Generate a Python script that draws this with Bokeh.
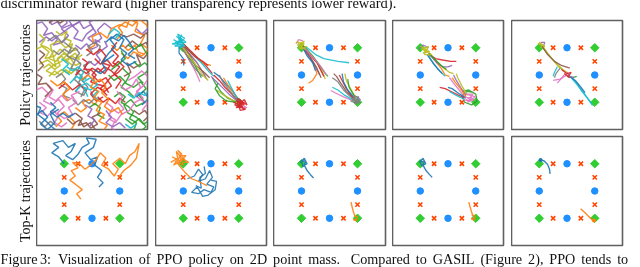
import math
from bokeh.plotting import figure
from bokeh.layouts import column, row
from bokeh.models import Range1d
from bokeh.embed import file_html
from bokeh.resources import INLINE
from bokeh.core.properties import value

TAB = {"blue": "#1f77b4", "orange": "#ff7f0e", "green": "#2ca02c", "red": "#d62728",
       "purple": "#9467bd", "brown": "#8c564b", "pink": "#e377c2", "gray": "#7f7f7f",
       "olive": "#bcbd22", "cyan": "#17becf"}

TOP_TEXT = "discriminator reward (higher transparency represents lower reward)."
CAPTION = ("Figure\u20063:\u2002Visualization\u2006 of\u2006 PPO\u2006 policy\u2006 on\u2006 2D\u2006 point\u2006 mass."
           "\u2002 Compared\u2006 to\u2006 GASIL\u2006 (Figure\u2006 2),\u2006 PPO\u2006 tends\u2006 to")
ROW_LABELS = ["Policy trajectories", "Top-K trajectories"]

# goal markers
DIAMOND_X = [-1, 1, -1, 1]
DIAMOND_Y = [1, 1, -1, -1]
CIRCLE_X = [0, 0, -1, 1]
CIRCLE_Y = [1, -1, 0, 0]
CROSS_X = [-0.5, 0.5, -0.5, 0.5, -1, -1, 1, 1]
CROSS_Y = [1, 1, -1, -1, 0.5, -0.5, 0.5, -0.5]

# ---- top row, panel 1 (random policy) ----
TOP1 = [
    ("purple", [(-2.1,1.85),(-1.8,1.95),(-1.6,1.7),(-1.75,1.45),(-1.45,1.55),(-1.25,1.3),(-1.4,1.1),(-1.05,1.2),(-0.85,1.45),(-1.1,1.7),(-0.75,1.85),(-0.5,1.6),(-0.65,1.35),(-0.35,1.25),(-0.2,1.5),(0.05,1.7),(-0.1,1.95),(0.25,2.1)]),
    ("purple", [(-0.9,2.1),(-0.7,1.8),(-0.45,1.95),(-0.3,1.7),(-0.05,1.85),(0.15,1.55),(-0.15,1.35),(0.1,1.15),(0.35,1.35),(0.2,1.65),(0.45,1.9),(0.7,1.7)]),
    ("purple", [(-1.6,2.1),(-1.45,1.85),(-1.25,1.95),(-1.1,1.75),(-0.9,1.9),(-0.95,2.1)]),
    ("purple", [(-0.3,0.3),(-0.1,0.5),(0.1,0.35),(0.3,0.55),(0.15,0.75),(0.35,0.9),(0.55,1.05),(0.45,1.25)]),
    ("purple", [(-1.9,1.2),(-1.65,1.4),(-1.45,1.25),(-1.2,1.45),(-1.0,1.6),(-0.8,1.75),(-0.55,1.9),(-0.3,2.05)]),
    ("purple", [(-0.6,1.1),(-0.4,0.95),(-0.2,1.15),(0.0,0.95),(0.2,1.05),(0.1,1.3),(0.3,1.2)]),
    ("purple", [(1.6,1.7),(1.8,1.5),(2.0,1.7),(2.1,1.45)]),
    ("orange", [(-0.2,0.9),(0.1,1.1),(0.0,1.4),(0.3,1.55),(0.55,1.35),(0.7,1.7),(1.0,1.85),(1.25,1.75),(1.35,2.05),(1.65,1.9),(1.55,1.6),(1.9,1.45),(1.75,1.15),(2.05,0.95),(1.8,0.7),(1.5,0.85),(1.3,0.6),(1.05,0.8)]),
    ("orange", [(0.9,1.3),(1.1,1.55),(0.95,1.75),(1.2,1.95),(1.45,1.8),(1.7,2.05),(1.95,1.85),(2.1,1.6)]),
    ("orange", [(-1.3,-1.9),(-1.1,-1.7),(-1.25,-1.5),(-1.0,-1.35),(-0.8,-1.55),(-0.6,-1.75),(-0.75,-2.0)]),
    ("orange", [(0.7,1.1),(0.9,0.9),(1.1,1.1),(1.3,0.9),(1.55,1.1),(1.65,0.85),(1.9,0.75)]),
    ("orange", [(-0.6,-1.2),(-0.4,-1.35),(-0.2,-1.2),(-0.35,-1.0),(-0.1,-0.9),(0.1,-1.1),(0.25,-0.85)]),
    ("brown", [(1.2,1.0),(1.45,1.25),(1.7,1.05),(1.95,1.2),(2.1,0.9),(1.85,0.6),(1.6,0.75),(1.75,0.4),(1.5,0.25),(1.25,0.45),(1.4,0.1),(1.15,-0.05)]),
    ("brown", [(1.0,1.5),(1.25,1.4),(1.5,1.5),(1.75,1.35),(1.95,1.55),(2.1,1.35)]),
    ("brown", [(1.5,-1.3),(1.7,-1.45),(1.9,-1.3),(2.05,-1.5),(1.85,-1.7)]),
    ("brown", [(-1.55,1.9),(-1.35,2.05),(-1.15,1.9),(-0.95,2.05)]),
    ("olive", [(-2.1,0.9),(-1.8,1.05),(-1.55,0.85),(-1.7,0.6),(-1.35,0.7),(-1.15,0.95),(-0.9,0.75),(-1.1,0.5),(-1.4,0.35),(-1.65,0.15),(-1.35,0.0),(-1.1,0.2),(-0.85,0.05),(-0.7,0.35),(-0.95,0.55),(-0.6,0.8),(-0.45,0.55)]),
    ("olive", [(-1.9,0.4),(-1.6,0.55),(-1.3,0.3),(-1.5,1.1),(-1.2,1.25),(-0.95,1.0),(-0.7,1.15),(-0.8,0.85),(-0.5,0.95)]),
    ("olive", [(-1.9,1.5),(-1.7,1.3),(-1.85,1.1),(-1.6,1.0),(-1.4,0.85),(-1.55,0.6),(-1.3,0.5),(-1.1,0.7),(-0.9,0.5),(-0.75,0.7),(-0.55,0.6),(-0.35,0.75)]),
    ("olive", [(-1.75,0.25),(-1.55,0.4),(-1.35,0.2),(-1.15,0.35),(-1.25,0.6),(-1.0,0.8),(-0.8,0.65),(-0.6,0.35),(-0.4,0.45)]),
    ("olive", [(-1.3,1.6),(-1.1,1.45),(-0.9,1.6),(-1.0,1.35),(-0.75,1.25),(-0.85,1.05),(-0.6,0.95)]),
    ("olive", [(-1.55,-0.05),(-1.35,0.15),(-1.15,0.0),(-0.95,0.2),(-0.75,0.05),(-0.55,0.25)]),
    ("gray", [(-1.0,1.2),(-0.75,1.0),(-0.9,0.7),(-0.6,0.55),(-0.75,0.25),(-0.45,0.15),(-0.65,-0.15),(-0.4,-0.35),(-0.6,-0.6),(-0.3,-0.75),(-0.15,-0.45),(-0.35,-0.2),(-0.1,0.05),(-0.3,0.35),(0.0,0.5)]),
    ("gray", [(-1.4,0.9),(-1.2,0.75),(-1.0,0.95),(-0.8,0.8),(-0.6,1.0),(-0.45,0.8),(-0.6,0.6),(-0.4,0.4),(-0.55,0.1),(-0.35,-0.05),(-0.5,-0.3),(-0.25,-0.5),(-0.4,-0.8)]),
    ("gray", [(-0.7,-0.9),(-0.5,-1.1),(-0.3,-0.9),(-0.1,-1.05),(0.1,-0.85),(-0.05,-0.6)]),
    ("gray", [(-1.6,1.25),(-1.3,1.45),(-1.1,1.2),(-0.9,1.4)]),
    ("gray", [(-1.3,-0.1),(-1.1,0.05),(-0.95,-0.15),(-1.15,-0.35),(-0.9,-0.5),(-1.05,-0.75),(-0.8,-0.85)]),
    ("gray", [(-0.2,0.7),(0.0,0.85),(-0.15,1.05),(0.1,1.2),(0.3,1.05),(0.2,0.8)]),
    ("gray", [(-1.9,-1.7),(-1.7,-1.9),(-1.5,-1.7),(-1.3,-1.85)]),
    ("red", [(-0.2,0.95),(0.05,0.75),(0.3,0.95),(0.5,0.7),(0.35,0.45),(0.65,0.35),(0.45,0.05),(0.2,0.25),(0.0,0.0),(0.25,-0.25),(0.5,-0.1),(0.7,-0.4),(0.45,-0.6),(0.2,-0.45),(-0.05,-0.7),(0.15,-0.95),(0.4,-0.8)]),
    ("red", [(0.9,1.2),(0.7,0.95),(0.95,0.7),(0.75,0.45),(1.0,0.3),(0.8,0.05),(1.05,-0.2),(0.85,-0.5)]),
    ("red", [(0.1,0.6),(0.3,0.4),(0.55,0.55),(0.75,0.3),(0.95,0.5),(1.15,0.3),(0.95,0.1),(0.7,-0.05),(0.5,-0.3),(0.3,-0.5),(0.55,-0.75)]),
    ("red", [(-0.35,0.6),(-0.15,0.45),(-0.3,0.2),(-0.05,0.2),(0.15,0.0),(-0.05,-0.25),(0.2,-0.35),(0.45,-0.4),(0.6,-0.65)]),
    ("red", [(-1.2,-0.5),(-0.95,-0.3),(-0.7,-0.55),(-0.45,-0.35),(-0.2,-0.6)]),
    ("red", [(-0.6,0.0),(-0.4,0.2),(-0.2,0.05),(0.0,0.25),(0.25,0.1),(0.45,0.3),(0.7,0.15),(0.9,-0.05)]),
    ("red", [(0.2,-0.8),(0.4,-1.0),(0.6,-0.85),(0.85,-1.05),(1.0,-0.85),(1.2,-1.0)]),
    ("green", [(1.1,0.25),(1.35,0.0),(1.2,-0.3),(1.5,-0.45),(1.75,-0.25),(1.95,-0.5),(1.7,-0.75),(1.9,-1.0),(1.6,-1.15),(1.4,-0.9),(1.15,-1.1),(1.3,-1.4),(1.6,-1.55),(1.85,-1.8),(2.1,-1.65)]),
    ("green", [(0.7,0.2),(0.95,0.4),(1.2,0.6),(1.05,0.9)]),
    ("green", [(1.5,0.5),(1.7,0.3),(1.9,0.45),(2.1,0.25),(1.9,0.05),(1.65,-0.1),(1.85,-0.3)]),
    ("green", [(0.8,-0.8),(1.0,-0.65),(1.2,-0.8),(1.05,-1.0),(1.3,-1.15),(1.5,-1.35),(1.35,-1.6),(1.6,-1.75),(1.5,-2.05)]),
    ("green", [(1.2,-1.6),(1.45,-1.8),(1.7,-1.6),(1.95,-1.9),(1.7,-2.1)]),
    ("green", [(-0.1,-1.2),(0.1,-1.05),(0.3,-1.2),(0.2,-1.45),(0.45,-1.6)]),
    ("green", [(0.6,0.0),(0.8,-0.2),(1.0,-0.05),(1.2,-0.25),(1.05,-0.45),(1.3,-0.6),(1.5,-0.8)]),
    ("green", [(1.3,1.1),(1.55,0.95),(1.75,1.15),(1.9,0.9),(2.05,0.65)]),
    ("pink", [(-2.1,-0.6),(-1.8,-0.45),(-1.55,-0.7),(-1.75,-0.95),(-1.45,-1.1),(-1.2,-0.9),(-1.0,-1.15),(-1.25,-1.4),(-1.0,-1.6),(-0.7,-1.45),(-0.85,-1.2),(-0.55,-1.0),(-0.75,-0.75),(-0.45,-0.6)]),
    ("pink", [(1.3,-0.2),(1.55,-0.05),(1.8,0.15),(2.05,-0.1),(1.85,-0.4),(1.6,-0.6),(1.85,-0.85),(1.55,-1.0),(1.35,-1.3),(1.05,-1.45),(0.85,-1.75),(0.6,-1.6)]),
    ("pink", [(0.5,-1.0),(0.75,-1.2),(0.6,-1.5),(0.85,-1.65),(0.7,-1.95),(0.95,-2.1)]),
    ("pink", [(-1.9,-1.0),(-1.65,-1.2),(-1.85,-1.4),(-1.6,-1.5),(-1.4,-1.3),(-1.2,-1.5),(-1.35,-1.75),(-1.1,-1.9),(-0.9,-1.75)]),
    ("pink", [(1.0,-0.35),(1.2,-0.55),(1.45,-0.4),(1.6,-0.15),(1.75,-0.45),(1.55,-0.75),(1.75,-0.9),(2.0,-1.05),(1.8,-1.3)]),
    ("pink", [(-1.6,-0.35),(-1.4,-0.55),(-1.55,-0.8),(-1.3,-0.95),(-1.1,-0.75),(-0.9,-0.95),(-0.65,-0.8)]),
    ("pink", [(0.9,-0.6),(1.1,-0.8),(0.95,-1.0),(1.15,-1.25),(0.95,-1.4),(0.75,-1.25)]),
    ("blue", [(-2.05,-1.5),(-1.8,-1.3),(-1.6,-1.55),(-1.85,-1.8),(-1.6,-2.0),(-1.35,-1.75),(-1.5,-1.45),(-1.2,-1.25)]),
    ("blue", [(0.4,0.5),(0.6,0.8),(0.85,1.05),(0.65,1.3),(0.9,1.5),(1.15,1.3),(1.0,1.0),(1.25,0.8),(1.05,0.55),(1.3,0.35),(1.6,0.5)]),
    ("blue", [(1.6,-0.8),(1.85,-0.6),(2.05,-0.85),(1.8,-1.1)]),
    ("blue", [(0.5,1.2),(0.7,1.4),(0.95,1.25),(1.15,1.45),(1.35,1.2),(1.5,0.95),(1.3,0.75),(1.55,0.6)]),
    ("blue", [(-2.1,-1.1),(-1.85,-1.2),(-1.95,-1.45),(-1.7,-1.65),(-1.45,-1.9),(-1.2,-2.1)]),
    ("blue", [(-1.5,-1.0),(-1.3,-1.2),(-1.5,-1.35),(-1.25,-1.55),(-1.05,-1.4),(-0.85,-1.55),(-0.6,-1.4)]),
    ("blue", [(0.1,0.2),(0.3,0.05),(0.5,0.2),(0.35,0.45),(0.6,0.6),(0.8,0.75)]),
    ("cyan", [(-0.8,-0.3),(-0.55,-0.05),(-0.3,-0.25),(-0.05,-0.1),(0.2,-0.35),(-0.05,-0.55),(-0.3,-0.45),(-0.15,-0.8)]),
    ("cyan", [(-1.1,0.6),(-0.85,0.4),(-1.05,0.2),(-0.8,0.0)]),
    ("cyan", [(-0.6,-0.6),(-0.4,-0.4),(-0.2,-0.3),(0.0,-0.45),(0.2,-0.6),(0.05,-0.75),(0.25,-0.95)]),
    ("cyan", [(1.3,-0.7),(1.5,-0.85),(1.7,-0.65),(1.9,-0.75),(2.05,-0.55)]),
    ("cyan", [(-0.9,0.3),(-0.7,0.15),(-0.5,0.3),(-0.3,0.1),(-0.45,-0.1),(-0.2,-0.15)]),
    ("cyan", [(0.6,1.5),(0.8,1.7),(1.0,1.55),(0.85,1.35)]),
    ("cyan", [(1.2,-1.8),(1.4,-1.95),(1.6,-1.8)]),
    ("orange", [(-0.4,-0.2),(-0.15,0.0),(0.1,-0.2),(-0.05,-0.45),(0.25,-0.6),(0.05,-0.85),(0.35,-1.0),(0.15,-1.3),(0.45,-1.45),(0.25,-1.7),(0.55,-1.85),(0.35,-2.1)]),
    ("orange", [(-1.5,-0.2),(-1.25,-0.4),(-1.0,-0.25),(-0.8,-0.5),(-1.05,-0.7),(-0.85,-0.95)]),
    ("orange", [(0.1,-0.3),(0.3,-0.15),(0.5,-0.4),(0.35,-0.65),(0.6,-0.9),(0.45,-1.15),(0.7,-1.35),(0.95,-1.2),(1.1,-1.45)]),
    ("brown", [(-0.6,-1.4),(-0.35,-1.6),(-0.5,-1.85),(-0.2,-1.75),(-0.05,-1.95),(0.2,-1.8),(0.0,-1.55),(0.3,-1.4)]),
    ("brown", [(-2.1,0.1),(-1.8,-0.1),(-1.95,-0.35),(-1.65,-0.3),(-1.45,-0.55),(-1.7,-0.8)]),
    ("brown", [(-1.9,0.9),(-1.7,0.75),(-1.9,0.55),(-1.75,0.35),(-1.95,0.15)]),
    ("brown", [(-0.9,-1.6),(-0.7,-1.8),(-0.45,-1.65),(-0.3,-1.9),(-0.05,-1.75),(0.15,-2.05)]),
    ("purple", [(-0.25,-1.1),(0.0,-1.25),(-0.15,-1.5),(0.1,-1.65),(-0.1,-1.9)]),
    ("purple", [(0.5,-1.3),(0.7,-1.55),(0.5,-1.75),(0.75,-1.9),(1.0,-1.75),(1.2,-1.95)]),
]

TOP2 = [
    ("olive", [(-1.05,1.1),(-0.8,0.8),(-0.55,0.5),(-0.35,0.2),(-0.2,-0.05)]),
    ("red", [(-1.0,1.15),(-0.7,0.85),(-0.4,0.55),(-0.15,0.3),(0.05,0.05)]),
    ("green", [(-1.1,1.05),(-0.85,0.7),(-0.6,0.4),(-0.45,0.1),(-0.35,-0.1)]),
    ("pink", [(-1.05,1.05),(-0.85,0.65),(-0.65,0.3),(-0.5,0.0),(-0.4,-0.25)]),
    ("orange", [(-1.0,1.1),(-0.7,0.8),(-0.45,0.55),(-0.2,0.4),(0.0,0.35)]),
    ("purple", [(-1.05,1.1),(-0.75,0.75),(-0.5,0.45),(-0.3,0.1),(-0.15,-0.15)]),
    ("blue", [(-1.15,1.05),(-1.15,0.8),(-1.0,0.6),(-0.98,0.35)]),
    ("brown", [(-1.0,1.05),(-0.75,0.7),(-0.55,0.35),(-0.25,0.1),(-0.05,-0.1)]),
    ("gray", [(-1.05,1.0),(-0.8,0.6),(-0.55,0.2),(-0.3,-0.05)]),
    ("cyan", [(-1.0,1.1),(-0.65,0.75),(-0.35,0.45),(-0.1,0.15),(0.1,-0.05)]),
    ("red", [(-0.95,1.05),(-0.6,0.7),(-0.3,0.5),(-0.1,0.35)]),
    ("olive", [(-1.0,1.0),(-0.75,0.65),(-0.5,0.3),(-0.3,0.0),(-0.1,-0.2)]),
    ("cyan", [(-1.35,1.3),(-1.0,1.1),(-1.3,1.05),(-0.95,1.35),(-1.2,1.5),(-1.05,1.0),(-1.4,1.15),(-0.9,1.2),(-1.15,1.4),(-1.1,1.05)]),
    ("cyan", [(-1.25,1.42),(-1.05,1.25),(-1.3,1.2),(-0.95,1.05),(-1.15,1.3),(-1.05,1.48)]),
    ("cyan", [(-1.2,1.25),(-1.0,1.2),(-1.1,1.35),(-1.2,1.1)]),
    ("red", [(1.0,-1.0),(0.75,-0.7),(0.5,-0.45),(0.3,-0.2),(0.1,0.0)]),
    ("green", [(0.95,-1.0),(0.6,-0.85),(0.35,-0.6),(0.15,-0.3),(0.05,-0.1)]),
    ("blue", [(1.0,-0.95),(0.8,-0.6),(0.55,-0.35),(0.3,-0.05),(0.1,0.1)]),
    ("orange", [(1.05,-0.95),(0.8,-0.65),(0.6,-0.35),(0.45,-0.1)]),
    ("purple", [(1.0,-1.0),(0.7,-0.75),(0.45,-0.5),(0.2,-0.25),(0.0,-0.05)]),
    ("gray", [(0.95,-0.95),(0.7,-0.6),(0.45,-0.3),(0.3,0.0)]),
    ("olive", [(1.0,-1.05),(0.65,-0.85),(0.4,-0.7),(0.2,-0.55)]),
    ("cyan", [(1.05,-1.0),(0.85,-0.7),(0.7,-0.4),(0.6,-0.2)]),
    ("green", [(0.9,-1.0),(0.55,-0.95),(0.3,-0.75),(0.15,-0.5),(0.25,-0.3)]),
    ("pink", [(1.25,-0.95),(1.0,-1.2),(1.3,-1.2),(0.95,-1.0),(1.2,-1.3)]),
    ("red", [(0.8,-1.0),(1.15,-1.15),(0.9,-1.2),(1.2,-0.9),(1.3,-1.1),(0.95,-0.85),(1.05,-1.3),(1.25,-1.25),(0.85,-1.1),(1.1,-0.95)]),
    ("red", [(0.9,-0.95),(1.1,-1.05),(0.95,-1.15),(1.15,-1.0),(1.0,-1.2)]),
    ("red", [(0.95,-1.0),(1.2,-1.1),(1.05,-0.9),(1.0,-1.15),(1.15,-1.2)]),
]

TOP3 = [
    ("orange", [(-0.95,1.0),(-0.75,0.7),(-0.55,0.4),(-0.45,0.05),(-0.6,-0.2),(-0.75,-0.3)]),
    ("olive", [(-0.9,1.0),(-0.65,0.7),(-0.4,0.4),(-0.25,0.1),(-0.15,-0.15)]),
    ("red", [(-0.95,1.05),(-0.7,0.75),(-0.45,0.45),(-0.3,0.15),(-0.2,-0.05)]),
    ("cyan", [(-0.85,1.05),(-0.5,0.75),(-0.2,0.6),(0.3,0.5),(0.7,0.45)]),
    ("green", [(-0.9,1.05),(-0.6,0.7),(-0.35,0.35),(-0.15,0.05),(-0.05,-0.05)]),
    ("purple", [(-0.95,1.0),(-0.7,0.65),(-0.5,0.3),(-0.35,0.0)]),
    ("brown", [(-0.9,0.95),(-0.65,0.6),(-0.45,0.25),(-0.3,-0.1)]),
    ("blue", [(-0.95,1.0),(-0.8,0.7),(-0.6,0.45),(-0.5,0.15)]),
    ("pink", [(-0.9,1.0),(-0.55,0.6),(-0.3,0.3),(-0.1,0.0)]),
    ("pink", [(-1.2,1.15),(-1.1,1.3),(-0.95,1.25)]),
    ("olive", [(-1.2,1.2),(-0.95,1.15),(-1.1,1.0),(-0.85,0.95),(-1.15,1.1),(-0.9,1.25),(-1.05,0.95),(-0.8,1.05)]),
    ("olive", [(-1.15,1.25),(-1.0,1.05),(-0.9,1.15),(-1.1,1.15)]),
    ("brown", [(0.9,-0.9),(0.6,-0.6),(0.4,-0.3),(0.25,-0.05),(0.15,0.05)]),
    ("red", [(0.85,-0.85),(0.6,-0.5),(0.45,-0.2),(0.35,0.0)]),
    ("blue", [(0.9,-0.85),(0.65,-0.55),(0.5,-0.25),(0.45,0.05)]),
    ("pink", [(0.85,-0.95),(0.5,-0.8),(0.2,-0.65),(0.05,-0.57)]),
    ("cyan", [(0.9,-0.95),(0.55,-0.75),(0.3,-0.55),(0.1,-0.45)]),
    ("olive", [(0.95,-0.85),(0.75,-0.5),(0.6,-0.2),(0.55,0.05)]),
    ("gray", [(0.85,-0.9),(0.5,-0.55),(0.3,-0.25),(0.1,-0.1)]),
    ("green", [(0.9,-0.8),(0.7,-0.45),(0.65,-0.15)]),
    ("purple", [(0.95,-1.05),(1.1,-0.9),(0.9,-0.75)]),
    ("gray", [(0.8,-0.9),(1.1,-1.0),(0.9,-1.05),(1.05,-0.8),(0.85,-0.8),(1.0,-1.05),(0.75,-0.95)]),
    ("gray", [(0.9,-0.85),(1.05,-0.95),(0.95,-1.0),(0.85,-0.9)]),
]

TOP4 = [
    ("orange", [(-0.7,0.8),(-0.45,0.5),(-0.25,0.25),(-0.1,0.0),(0.05,-0.05)]),
    ("olive", [(-0.65,0.8),(-0.4,0.5),(-0.15,0.25),(0.05,0.1),(0.2,0.05)]),
    ("red", [(-0.7,0.75),(-0.45,0.6),(-0.2,0.55),(0.1,0.5),(0.3,0.5)]),
    ("cyan", [(-0.7,0.7),(-0.5,0.4),(-0.3,0.15),(-0.1,-0.05)]),
    ("purple", [(-0.65,0.75),(-0.4,0.45),(-0.2,0.3),(0.0,0.3),(0.15,0.35)]),
    ("green", [(-0.7,0.8),(-0.45,0.55),(-0.25,0.35),(-0.05,0.2)]),
    ("blue", [(-0.75,0.75),(-0.55,0.45),(-0.35,0.2),(-0.2,0.05)]),
    ("purple", [(-1.05,0.95),(-0.9,1.1),(-0.7,1.0)]),
    ("olive", [(-1.0,1.05),(-0.75,0.95),(-0.9,0.8),(-0.65,0.85),(-0.95,0.95),(-0.7,1.05),(-0.85,0.75),(-0.6,0.75)]),
    ("olive", [(-0.95,1.0),(-0.8,0.85),(-0.7,0.9),(-0.85,0.95)]),
    ("green", [(0.5,-0.6),(0.75,-0.55),(1.0,-0.7),(1.05,-0.95),(0.85,-1.1),(0.6,-1.0),(0.5,-0.75),(0.7,-0.6),(0.95,-0.65)]),
    ("pink", [(0.6,-0.8),(0.4,-0.55),(0.2,-0.3),(0.05,-0.1)]),
    ("red", [(0.6,-0.85),(0.2,-0.65),(-0.1,-0.5),(-0.3,-0.45)]),
    ("purple", [(0.65,-0.75),(0.45,-0.45),(0.3,-0.2),(0.2,0.0)]),
    ("cyan", [(0.6,-0.9),(0.3,-0.75),(0.05,-0.6)]),
    ("blue", [(0.65,-0.85),(0.35,-0.65),(0.15,-0.5),(0.0,-0.45)]),
    ("olive", [(0.7,-0.75),(0.5,-0.4),(0.35,-0.1),(0.3,0.05)]),
    ("orange", [(0.65,-0.8),(0.45,-0.5),(0.25,-0.25),(0.15,-0.1)]),
    ("pink", [(0.6,-0.8),(0.95,-0.9),(0.7,-1.0),(0.9,-0.7),(0.65,-0.7),(1.0,-0.8),(0.75,-0.95),(0.55,-0.9)]),
    ("pink", [(0.7,-0.85),(0.85,-0.8),(0.8,-0.95),(0.65,-0.9)]),
]

TOP5 = [
    ("purple", [(-0.95,1.2),(-0.8,1.2),(-0.85,1.05)]),
    ("olive", [(-1.05,1.15),(-0.85,1.1),(-0.95,1.0),(-0.8,1.05),(-1.0,1.2),(-0.9,1.1)]),
    ("olive", [(-0.95,1.1),(-0.75,0.85),(-0.55,0.6),(-0.35,0.4),(-0.15,0.2),(0.0,0.1)]),
    ("olive", [(-0.9,1.1),(-0.7,0.8),(-0.5,0.55),(-0.3,0.3),(-0.1,0.15)]),
    ("brown", [(-0.9,1.05),(-0.7,0.75),(-0.45,0.5),(-0.2,0.35),(0.1,0.25)]),
    ("pink", [(0.0,0.0),(-0.25,-0.15),(-0.5,-0.2)]),
    ("cyan", [(-0.35,0.3),(-0.45,0.1),(-0.5,-0.05)]),
    ("gray", [(-0.25,0.25),(-0.4,0.05),(-0.45,-0.1)]),
    ("green", [(0.0,-0.05),(0.2,-0.1),(0.35,-0.05)]),
    ("cyan", [(0.15,-0.1),(0.35,-0.3),(0.5,-0.55),(0.7,-0.8),(0.85,-1.0),(0.92,-1.12)]),
    ("cyan", [(0.2,-0.15),(0.4,-0.4),(0.6,-0.65),(0.78,-0.9),(0.9,-1.08)]),
    ("blue", [(0.1,-0.05),(0.3,-0.2),(0.5,-0.45),(0.65,-0.65)]),
    ("purple", [(0.0,0.1),(0.1,-0.05),(0.25,-0.1)]),
    ("pink", [(-0.1,0.0),(-0.35,-0.3)]),
    ("red", [(-0.2,0.2),(0.0,0.05),(0.15,0.1),(0.05,-0.05),(-0.1,0.05),(0.1,-0.1)]),
]

BOT1 = [
    ("blue", [(-1.0,1.0),(-1.2,1.25),(-1.45,1.4),(-1.2,1.6),(-1.4,1.75),(-1.05,1.85),(-0.85,1.6),(-0.6,1.75),(-0.75,1.45),(-0.95,1.3),(-0.7,1.15),(-0.5,1.35),(-0.35,1.6),(-0.1,1.75),(-0.2,1.95),(0.15,1.9),(0.05,1.6),(-0.25,1.4),(-0.05,1.15),(0.2,1.25),(0.1,0.95),(0.35,0.75),(0.2,0.5),(0.4,0.3),(0.25,0.15)]),
    ("orange", [(-0.4,-0.3),(-0.55,-0.1),(-0.35,0.05),(-0.6,0.25),(-0.8,0.4),(-0.6,0.55),(-0.75,0.75),(-0.5,0.85),(-0.7,1.05),(-0.45,1.0),(-0.25,0.8),(-0.05,0.95),(0.15,1.15),(0.3,1.4),(0.5,1.2),(0.35,0.95),(0.6,0.8),(0.8,0.55),(0.95,0.8),(0.75,1.0),(1.0,1.2),(1.2,1.0),(1.35,1.3),(1.55,1.45),(1.7,1.75),(1.6,1.2),(1.4,0.95),(1.15,0.75),(0.95,0.5)]),
]

BOT2 = [
    ("blue", [(-0.85,0.45),(-0.6,0.55),(-0.45,0.8),(-0.3,0.6),(-0.45,0.35),(-0.2,0.45),(-0.05,0.75),(0.05,0.5),(-0.15,0.25),(0.1,0.15),(0.0,-0.05),(-0.25,0.05),(-0.45,-0.1),(-0.7,-0.05),(-0.5,0.15),(-0.3,-0.2),(-0.1,-0.15),(0.15,0.05),(0.2,0.35),(0.0,0.4)]),
    ("blue", [(-0.55,0.2),(-0.35,0.1),(-0.4,0.5),(-0.2,0.65),(-0.25,0.9)]),
    ("orange", [(-1.4,1.25),(-1.1,1.1),(-1.35,0.95),(-1.05,1.35),(-1.2,1.5),(-0.95,1.15),(-1.3,1.1),(-1.0,0.95),(-1.15,1.3),(-0.9,1.3),(-1.2,1.0),(-0.95,0.7),(-0.7,0.45),(-0.45,0.35),(-0.14,0.2)]),
    ("orange", [(-1.45,1.05),(-1.2,1.2),(-1.25,1.45),(-1.05,1.2),(-0.8,1.05),(-1.0,1.05)]),
]

BOT3 = [
    ("blue", [(-1.05,1.05),(-0.9,1.2),(-0.8,1.0),(-0.95,0.9),(-1.0,1.1),(-0.85,1.1),(-0.9,0.95),(-0.8,0.75),(-0.68,0.6),(-0.57,0.48)]),
    ("orange", [(0.77,-0.41),(0.8,-0.55),(0.85,-0.75),(0.92,-0.95),(0.88,-0.9),(1.0,-0.95),(0.95,-1.1),(0.85,-1.05),(1.0,-1.02)]),
]

BOT4 = [
    ("blue", [(-1.04,1.05),(-0.9,1.2),(-0.8,1.0),(-0.95,0.92),(-1.0,1.1),(-0.85,1.08),(-0.9,0.95),(-0.8,0.76),(-0.68,0.62),(-0.57,0.5)]),
    ("orange", [(0.75,-0.41),(0.79,-0.56),(0.84,-0.74),(0.9,-0.92),(0.86,-0.88),(0.98,-0.92),(0.94,-1.07),(0.84,-1.02),(0.98,-0.98)]),
]

BOT5 = [
    ("blue", [(-0.95,1.14),(-0.82,1.1),(-0.7,0.97),(-0.63,0.8),(-0.61,0.63)]),
    ("orange", [(0.49,-0.65),(0.65,-0.8),(0.8,-0.95),(0.97,-1.11)]),
]
BOT5_DOTS = [("blue", -0.95, 1.14), ("orange", 0.97, -1.08)]

TOP_PANELS = [TOP1, TOP2, TOP3, TOP4, TOP5]
BOT_PANELS = [BOT1, BOT2, BOT3, BOT4, BOT5]

# layout (pixels)
CELL_W = [119, 118, 119, 119, 129]
RIGHT_B = [8, 7, 7, 8, 18]
LABEL_W = 36
ROW_H = [121, 114]
TOP_B = [8, 3]
BOT_B = [4, 2]


def base_fig(**kw):
    p = figure(toolbar_location=None, output_backend="svg",
               x_axis_type=None, y_axis_type=None, **kw)
    p.title = None
    return p


def panel(trajs, w, rb, h, tb, bb, lw, markers=True, dots=None):
    p = base_fig(width=w, height=h, x_range=Range1d(-2, 2), y_range=Range1d(-2, 2),
                 min_border_left=0, min_border_right=rb,
                 min_border_top=tb, min_border_bottom=bb)
    p.outline_line_color = "#606060"
    p.outline_line_width = 1.6
    p.background_fill_color = "white"
    p.border_fill_color = "white"
    if markers:
        p.scatter(DIAMOND_X, DIAMOND_Y, marker="square", angle=math.pi / 4, size=6,
                  fill_color="limegreen", line_color="limegreen")
        p.scatter(CIRCLE_X, CIRCLE_Y, marker="circle", size=6.5,
                  fill_color="dodgerblue", line_color="dodgerblue")
        p.scatter(CROSS_X, CROSS_Y, marker="x", size=6, line_color="orangered", line_width=1.6)
    xs = [[pt[0] for pt in t[1]] for t in trajs]
    ys = [[pt[1] for pt in t[1]] for t in trajs]
    cols = [TAB[t[0]] for t in trajs]
    p.multi_line(xs, ys, line_color=cols, line_width=lw, line_alpha=0.9)
    if dots:
        p.scatter([d[1] for d in dots], [d[2] for d in dots], size=4,
                  fill_color=[TAB[d[0]] for d in dots], line_color=None)
    return p


def label_fig(text, h, tb, bb):
    p = base_fig(width=LABEL_W, height=h, x_range=Range1d(0, LABEL_W), y_range=Range1d(-2, 2),
                 min_border_left=0, min_border_right=0,
                 min_border_top=tb, min_border_bottom=bb)
    p.outline_line_color = None
    p.text(x=[24.5], y=[0], text=[text], angle=math.pi / 2, text_align="center",
           text_baseline="middle", text_font=value("Liberation Serif"),
           text_font_size="14px", text_color="#111111")
    return p


def text_fig(text, h, ybase, size):
    p = base_fig(width=640, height=h, x_range=Range1d(0, 640), y_range=Range1d(0, h),
                 min_border_left=0, min_border_right=0,
                 min_border_top=0, min_border_bottom=0)
    p.outline_line_color = None
    p.text(x=[0], y=[ybase], text=[text], text_align="left", text_baseline="alphabetic",
           text_font=value("Liberation Serif"), text_font_size=size, text_color="#111111")
    return p


rows = []
rows.append(text_fig(TOP_TEXT, 12, 9.5, "14.5px"))
LW = [[1.5, 1.3, 1.3, 1.3, 1.3], [1.4, 1.3, 1.4, 1.4, 1.4]]
for r, panels in enumerate([TOP_PANELS, BOT_PANELS]):
    figs = [label_fig(ROW_LABELS[r], ROW_H[r], TOP_B[r], BOT_B[r])]
    for i, trajs in enumerate(panels):
        dots = BOT5_DOTS if (r == 1 and i == 4) else None
        markers = not (r == 0 and i == 0)
        figs.append(panel(trajs, CELL_W[i], RIGHT_B[i], ROW_H[r], TOP_B[r], BOT_B[r],
                          LW[r][i], markers, dots))
    rows.append(row(*figs, spacing=0))
rows.append(text_fig(CAPTION, 20, 8.5, "14.2px"))

root = column(*rows, spacing=0)
root.styles = {"position": "fixed", "left": "0px", "top": "0px"}

open("out.html", "w").write(file_html(root, INLINE))
